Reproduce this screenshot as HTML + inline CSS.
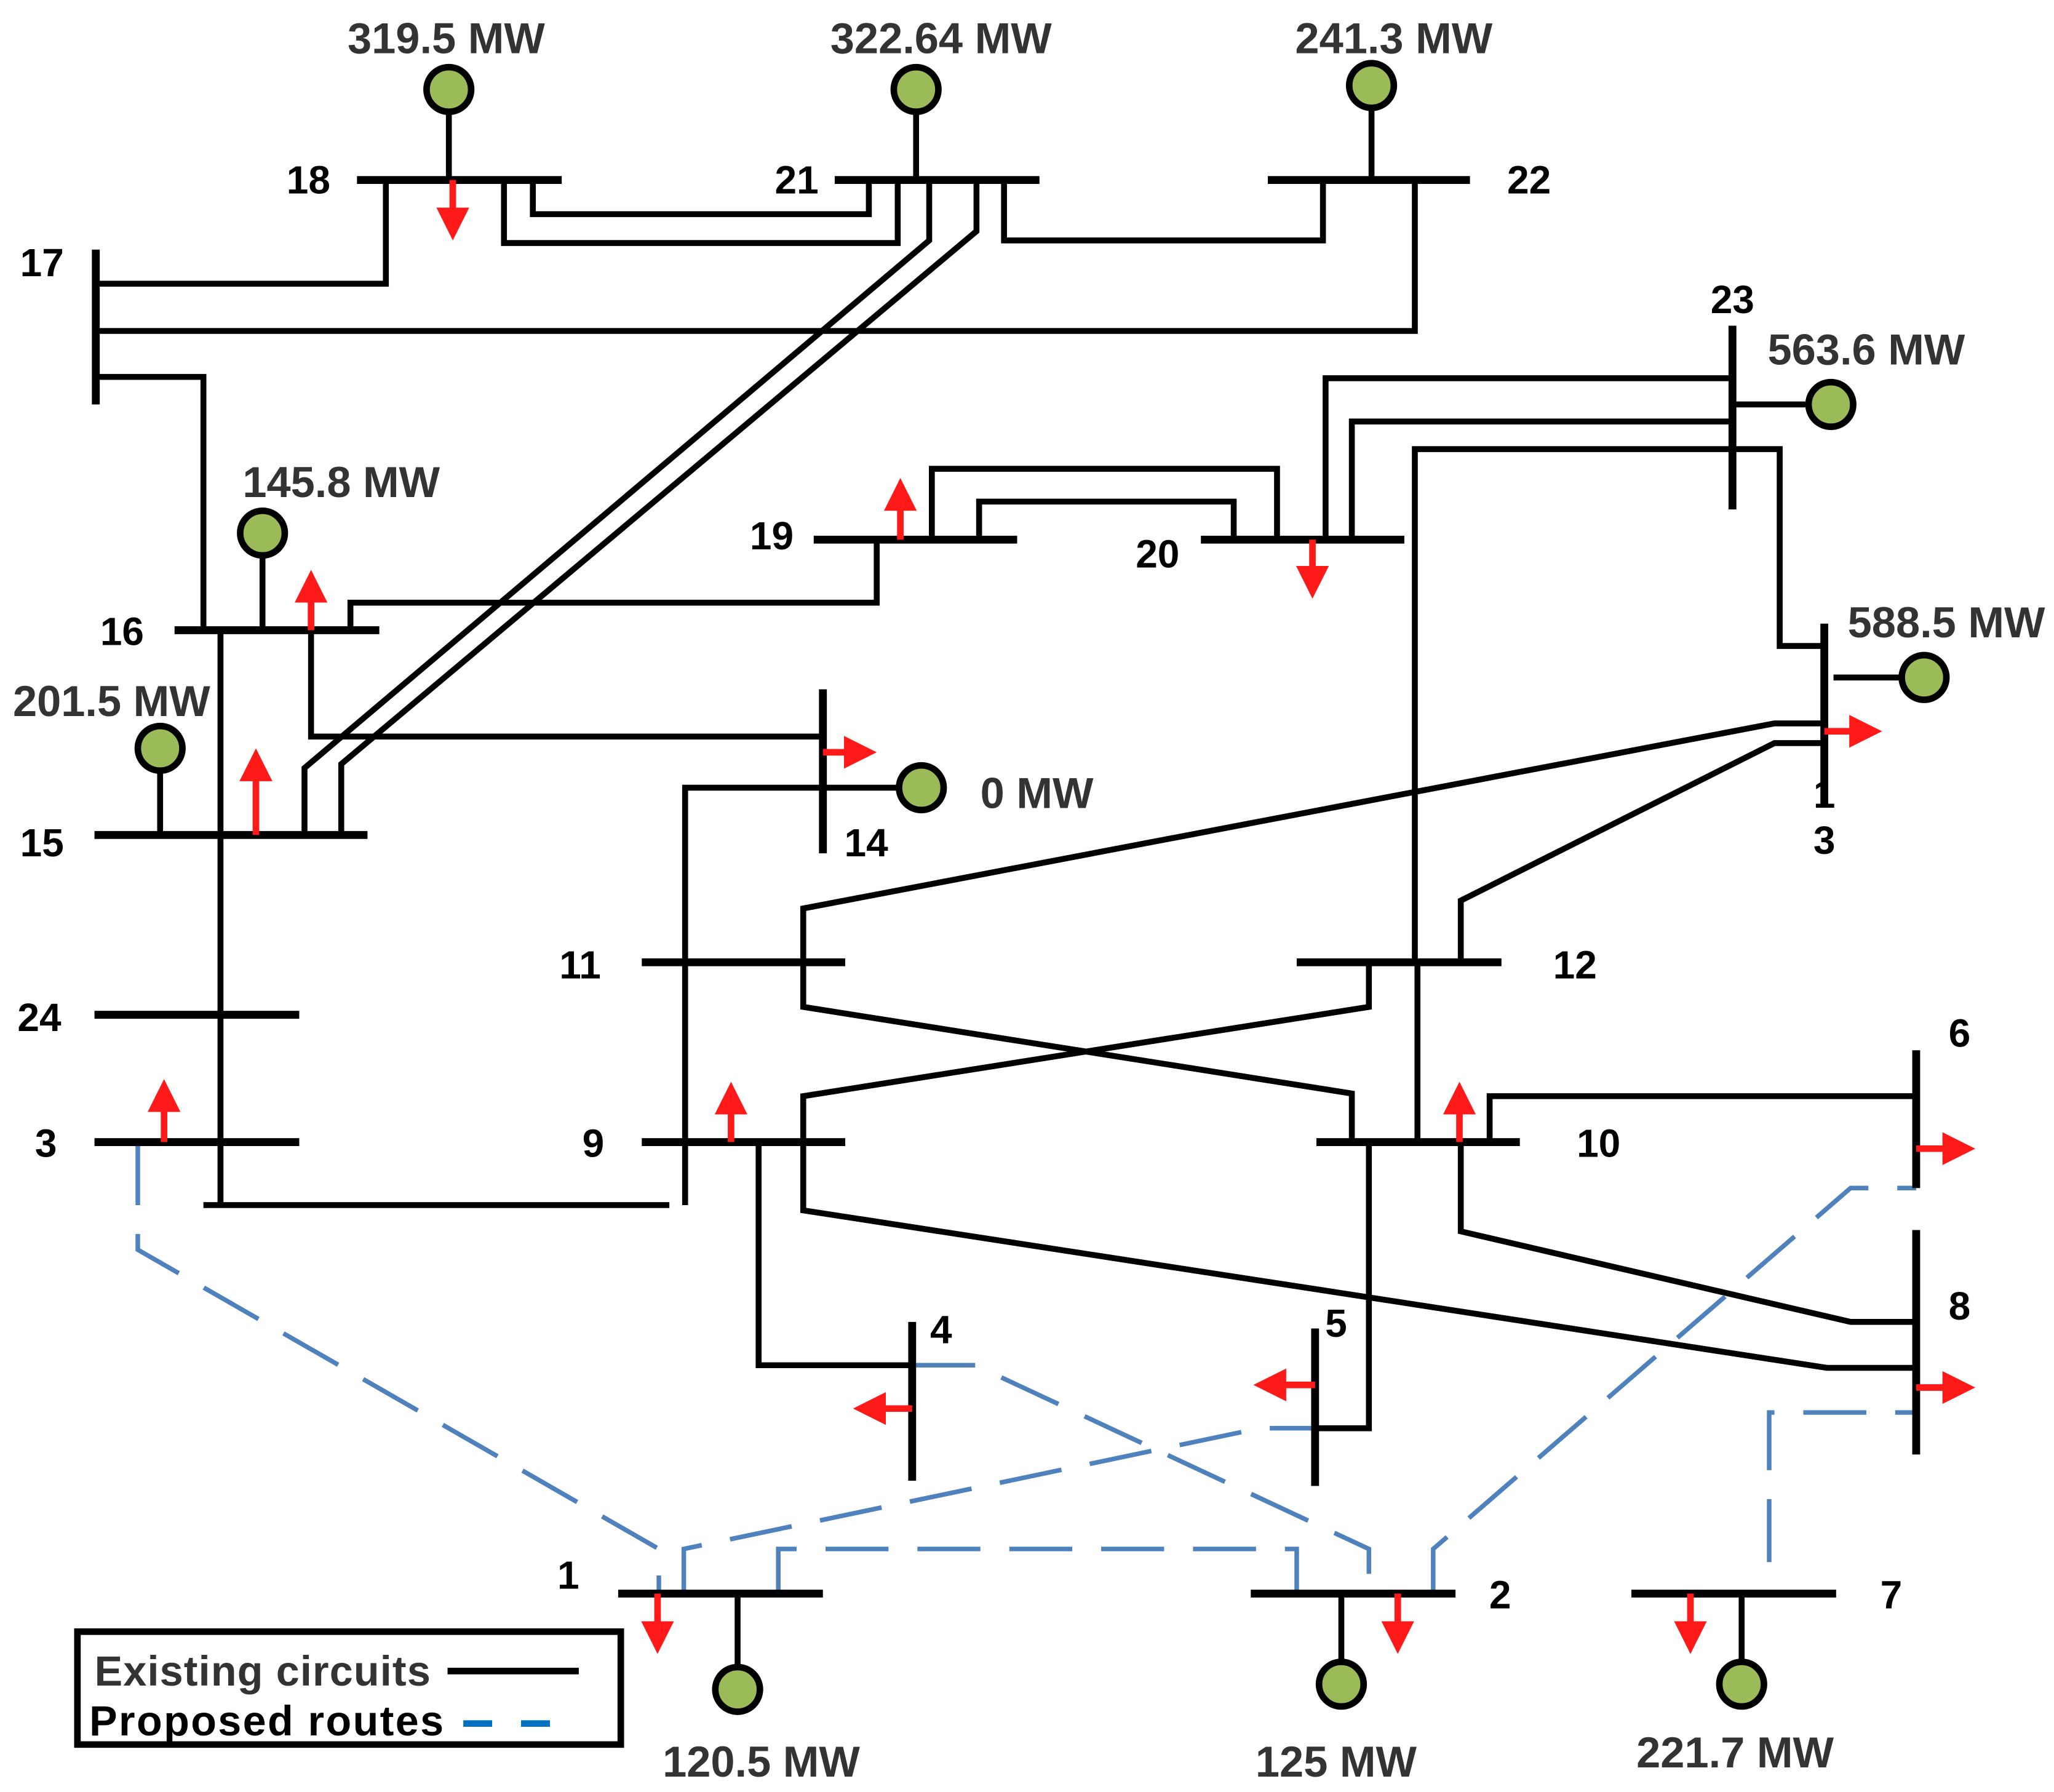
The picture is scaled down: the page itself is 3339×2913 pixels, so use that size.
<!DOCTYPE html>
<html><head><meta charset="utf-8"><style>html,body{margin:0;padding:0;background:#fff}svg{display:block}</style></head>
<body>
<svg width="3339" height="2913" viewBox="0 0 1565 1365" xmlns="http://www.w3.org/2000/svg">
<defs>
<marker id="ah" markerWidth="5" markerHeight="5" refX="1" refY="2.5" orient="auto" markerUnits="strokeWidth"><path d="M0,0 L5,2.5 L0,5 z" fill="#ff1a1a"/></marker>
</defs>
<rect width="1565" height="1365" fill="#fff"/>
<g fill="none" stroke="#000" stroke-width="4.5" stroke-linejoin="miter">
<polyline points="294,137 294,216 73,216"/>
<polyline points="384,137 384,185 684,185 684,137"/>
<polyline points="406,137 406,163 662,163 662,137"/>
<polyline points="765,137 765,183 1008,183 1008,137"/>
<polyline points="1078,137 1078,252 73,252"/>
<polyline points="73,287 155,287 155,480"/>
<polyline points="708,137 708,183 232,585 232,636"/>
<polyline points="744,137 744,176 260,582 260,636"/>
<polyline points="267,480 267,459 668,459 668,411"/>
<polyline points="237,480 237,561 627,561"/>
<polyline points="710,411 710,357 973,357 973,411"/>
<polyline points="746,411 746,382 940,382 940,411"/>
<polyline points="1010,411 1010,288 1320,288"/>
<polyline points="1030,411 1030,321 1320,321"/>
<polyline points="1320,342 1078,342 1078,733"/>
<polyline points="1080,733 1080,870"/>
<polyline points="1320,342 1356,342 1356,492 1390,492"/>
<polyline points="168,480 168,918"/>
<polyline points="155,918 510,918"/>
<polyline points="627,600 522,600 522,918"/>
<polyline points="1390,551 1352,551 612,692 612,733"/>
<polyline points="612,733 612,767 1030,833 1030,870"/>
<polyline points="1390,566 1352,566 1113,686 1113,733"/>
<polyline points="1043,733 1043,767 612,835 612,870"/>
<polyline points="612,870 612,922 1392,1042 1460,1042"/>
<polyline points="1113,870 1113,938 1410,1007 1460,1007"/>
<polyline points="1135,870 1135,835 1460,835"/>
<polyline points="578,870 578,1040 695,1040"/>
<polyline points="1043,870 1043,1088 1002,1088"/>
<line x1="342" y1="68" x2="342" y2="137"/>
<line x1="698" y1="68" x2="698" y2="137"/>
<line x1="1045" y1="65" x2="1045" y2="137"/>
<line x1="1320" y1="308" x2="1395" y2="308"/>
<line x1="1397" y1="516" x2="1466" y2="516"/>
<line x1="200" y1="406" x2="200" y2="480"/>
<line x1="122" y1="570" x2="122" y2="636"/>
<line x1="627" y1="600" x2="702" y2="600"/>
<line x1="562" y1="1214" x2="562" y2="1287"/>
<line x1="1022" y1="1214" x2="1022" y2="1283"/>
<line x1="1327" y1="1214" x2="1327" y2="1283"/>
</g>
<g fill="none" stroke="#4f81bd" stroke-width="3.5" stroke-dasharray="48,22">
<polyline points="105,870 105,952 502,1180 502,1214"/>
<polyline points="521,1214 521,1180 960,1088 1002,1088"/>
<polyline points="593,1214 593,1180 988,1180 988,1214"/>
<polyline points="695,1040 743,1040 1043,1180 1043,1214"/>
<polyline points="1092,1214 1092,1180 1410,905 1460,905"/>
<polyline points="1348,1190 1348,1076 1460,1076"/>
</g>
<g stroke="#000" stroke-width="6">
<line x1="272" y1="137" x2="428" y2="137"/>
<line x1="636" y1="137" x2="792" y2="137"/>
<line x1="966" y1="137" x2="1120" y2="137"/>
<line x1="73" y1="190" x2="73" y2="308"/>
<line x1="1320" y1="248" x2="1320" y2="388"/>
<line x1="620" y1="411" x2="775" y2="411"/>
<line x1="915" y1="411" x2="1070" y2="411"/>
<line x1="133" y1="480" x2="289" y2="480"/>
<line x1="1390" y1="475" x2="1390" y2="615"/>
<line x1="627" y1="525" x2="627" y2="650"/>
<line x1="72" y1="636" x2="280" y2="636"/>
<line x1="489" y1="733" x2="644" y2="733"/>
<line x1="988" y1="733" x2="1144" y2="733"/>
<line x1="72" y1="773" x2="228" y2="773"/>
<line x1="72" y1="870" x2="228" y2="870"/>
<line x1="489" y1="870" x2="644" y2="870"/>
<line x1="1003" y1="870" x2="1158" y2="870"/>
<line x1="1460" y1="800" x2="1460" y2="905"/>
<line x1="1460" y1="937" x2="1460" y2="1108"/>
<line x1="695" y1="1007" x2="695" y2="1128"/>
<line x1="1002" y1="1012" x2="1002" y2="1132"/>
<line x1="471" y1="1214" x2="627" y2="1214"/>
<line x1="953" y1="1214" x2="1109" y2="1214"/>
<line x1="1243" y1="1214" x2="1399" y2="1214"/>
</g>
<g fill="#9bbb59" stroke="#000" stroke-width="5">
<circle cx="342" cy="68" r="17"/><circle cx="698" cy="68" r="17"/><circle cx="1045" cy="65" r="17"/>
<circle cx="1395" cy="308" r="17"/><circle cx="1466" cy="516" r="17"/><circle cx="200" cy="406" r="17"/>
<circle cx="122" cy="570" r="17"/><circle cx="702" cy="600" r="17"/><circle cx="562" cy="1287" r="17"/>
<circle cx="1022" cy="1283" r="17"/><circle cx="1327" cy="1283" r="17"/>
</g>
<g stroke="#ff1a1a" stroke-width="5" marker-end="url(#ah)">
<line x1="345" y1="137" x2="345" y2="163"/>
<line x1="686" y1="411" x2="686" y2="384"/>
<line x1="1000" y1="411" x2="1000" y2="436"/>
<line x1="237" y1="480" x2="237" y2="454"/>
<line x1="195" y1="636" x2="195" y2="590"/>
<line x1="627" y1="573" x2="648" y2="573"/>
<line x1="1390" y1="557" x2="1414" y2="557"/>
<line x1="125" y1="870" x2="125" y2="842"/>
<line x1="557" y1="870" x2="557" y2="844"/>
<line x1="1112" y1="870" x2="1112" y2="844"/>
<line x1="1460" y1="875" x2="1485" y2="875"/>
<line x1="1460" y1="1057" x2="1485" y2="1057"/>
<line x1="695" y1="1073" x2="670" y2="1073"/>
<line x1="1002" y1="1055" x2="975" y2="1055"/>
<line x1="501" y1="1214" x2="501" y2="1240"/>
<line x1="1065" y1="1214" x2="1065" y2="1240"/>
<line x1="1288" y1="1214" x2="1288" y2="1240"/>
</g>
<g font-family="Liberation Sans, sans-serif" font-weight="bold" font-size="30" fill="#000" text-anchor="middle" dominant-baseline="central">
<text x="235" y="137">18</text><text x="607" y="137">21</text><text x="1165" y="137">22</text>
<text x="32" y="200">17</text><text x="1320" y="228">23</text><text x="588" y="408">19</text>
<text x="882" y="422">20</text><text x="93" y="481">16</text><text x="1390" y="605">1</text><text x="1390" y="640">3</text>
<text x="660" y="642">14</text><text x="32" y="642">15</text><text x="442" y="735">11</text><text x="1200" y="735">12</text>
<text x="30" y="775">24</text><text x="35" y="871">3</text><text x="452" y="871">9</text><text x="1218" y="871">10</text>
<text x="1493" y="787">6</text><text x="1493" y="995">8</text><text x="717" y="1013">4</text><text x="1018" y="1008">5</text>
<text x="433" y="1200">1</text><text x="1143" y="1215">2</text><text x="1441" y="1215">7</text>
</g>
<g font-family="Liberation Sans, sans-serif" font-weight="bold" font-size="33" fill="#333" text-anchor="middle" dominant-baseline="central">
<text x="340" y="29">319.5 MW</text><text x="717" y="29">322.64 MW</text><text x="1062" y="29">241.3 MW</text>
<text x="1422" y="266">563.6 MW</text><text x="1483" y="474">588.5 MW</text><text x="260" y="367">145.8 MW</text>
<text x="85" y="534">201.5 MW</text><text x="790" y="604">0 MW</text><text x="580" y="1342">120.5 MW</text>
<text x="1018" y="1342">125 MW</text><text x="1322" y="1335">221.7 MW</text>
</g>
<rect x="59" y="1243" width="414" height="86" fill="#fff" stroke="#000" stroke-width="5"/>
<text x="72" y="1284" font-family="Liberation Sans, sans-serif" font-weight="bold" font-size="32" fill="#333" textLength="256">Existing circuits</text>
<line x1="341" y1="1273" x2="441" y2="1273" stroke="#000" stroke-width="5"/>
<text x="68" y="1322" font-family="Liberation Sans, sans-serif" font-weight="bold" font-size="32" fill="#000" textLength="270">Proposed routes</text>
<line x1="353" y1="1313" x2="433" y2="1313" stroke="#0070c0" stroke-width="5" stroke-dasharray="22,22"/>
</svg>
</body></html>
